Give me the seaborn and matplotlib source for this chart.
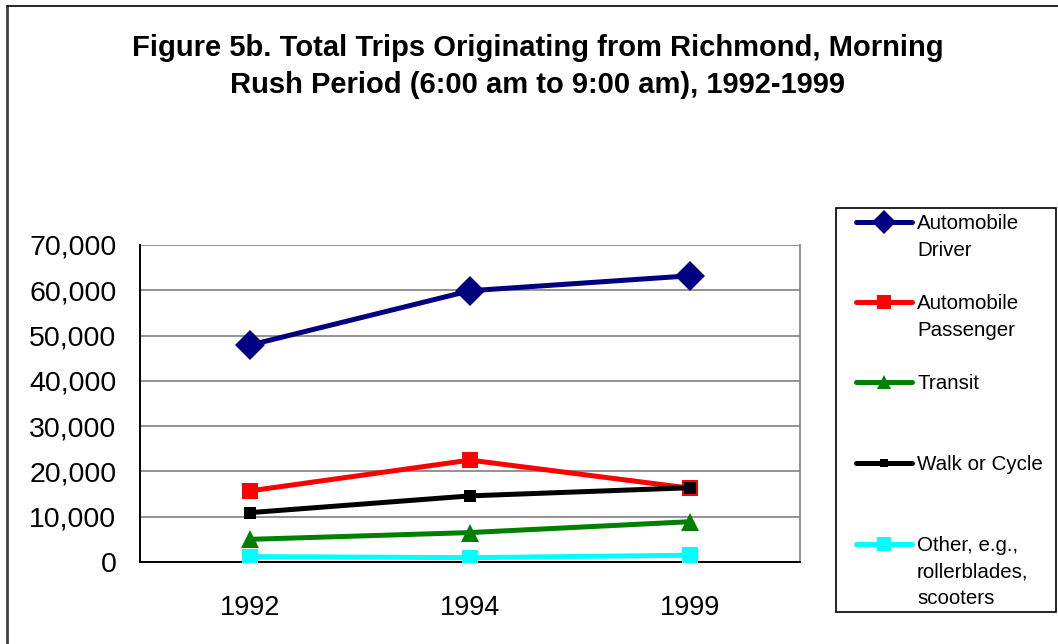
import matplotlib
matplotlib.use("Agg")
import matplotlib.pyplot as plt
from matplotlib.lines import Line2D
from matplotlib.ticker import FuncFormatter, FixedLocator
import seaborn as sns
import pandas as pd

years = ["1992", "1994", "1999"]
driver = [47900, 59900, 63200]
passenger = [15700, 22500, 16300]
transit = [5000, 6500, 8900]
walk = [10900, 14600, 16400]
other = [1200, 950, 1500]

labels = ["Automobile\nDriver", "Automobile\nPassenger", "Transit",
          "Walk or Cycle", "Other, e.g.,\nrollerblades,\nscooters"]
series = [driver, passenger, transit, walk, other]
colors = ["#000080", "#FF0000", "#008000", "#000000", "#00FFFF"]
markers = ["D", "s", "^", "s", "s"]
msizes = [15, 12, 13, 8, 12]

sns.set_style("white")
plt.rcParams["font.family"] = ["Liberation Sans", "DejaVu Sans"]
plt.rcParams["text.color"] = "black"
plt.rcParams["xtick.labelcolor"] = "black"
plt.rcParams["ytick.labelcolor"] = "black"

fig = plt.figure(figsize=(10.58, 6.44), dpi=100)
ax = fig.add_axes([140 / 1058, 82 / 644, 660 / 1058, 317 / 644])

# orden de Excel: la ultima serie queda encima
for i in range(5):
    df = pd.DataFrame({"year": years, "trips": series[i]})
    sns.lineplot(data=df, x="year", y="trips", ax=ax, color=colors[i],
                 marker=markers[i], markersize=msizes[i], linewidth=3.6,
                 markeredgewidth=0, markeredgecolor=colors[i], zorder=3 + i)

ax.set_xlim(-0.5, 2.5)
ax.set_ylim(0, 70000)
ax.set_yticks(range(0, 70001, 10000))
ax.yaxis.set_major_formatter(FuncFormatter(lambda v, p: f"{int(v):,}"))
ax.xaxis.set_minor_locator(FixedLocator([-0.5, 0.5, 1.5, 2.5]))
ax.tick_params(axis="x", which="major", length=0, labelsize=19.5, pad=24,
               labelcolor="black")
ax.tick_params(axis="x", which="minor", length=8, width=1, color="#808080", direction="out")
ax.tick_params(axis="y", length=8, width=1, color="black", direction="out",
               labelsize=20.5, pad=9, labelcolor="black")
ax.set_xlabel("")
ax.set_ylabel("")
ax.grid(axis="y", color="#808080", linewidth=1.2)
ax.set_axisbelow(True)
for s in ["left", "bottom"]:
    ax.spines[s].set_color("black")
    ax.spines[s].set_linewidth(1.4)
ax.spines["right"].set_color("#808080")
ax.spines["top"].set_visible(False)
ax.spines["right"].set_linewidth(1.2)

fig.suptitle("Figure 5b. Total Trips Originating from Richmond, Morning\n"
             "Rush Period (6:00 am to 9:00 am), 1992-1999",
             x=538 / 1058, y=1 - 34 / 644, fontsize=21, fontweight="bold",
             linespacing=1.4, va="top", color="black")

# leyenda manual (el marcador se alinea con la primera linea del texto)
W, H = 1058, 644
fig.patches.append(plt.Rectangle((836 / W, 1 - 612 / H), 220 / W, 404 / H,
                                 transform=fig.transFigure, fill=False,
                                 edgecolor="black", linewidth=1.2))
ys = [222, 302, 382, 463, 544]
for i in range(5):
    yf = 1 - ys[i] / H
    fig.add_artist(Line2D([856 / W, 912 / W], [yf, yf], transform=fig.transFigure,
                          color=colors[i], linewidth=3.6))
    fig.add_artist(Line2D([884 / W], [yf], transform=fig.transFigure,
                          color=colors[i], marker=markers[i],
                          markersize=msizes[i] * 0.8, markeredgewidth=0))
    fig.text(917 / W, yf + 8 / H, labels[i], fontsize=14.8, va="top", ha="left",
             linespacing=1.5, color="black")

# borde de la figura
fig.add_artist(Line2D([7 / W, 7 / W], [0, 1 - 6 / H], transform=fig.transFigure,
                      color="#404040", linewidth=2))
fig.add_artist(Line2D([7 / W, 1], [1 - 6 / H, 1 - 6 / H], transform=fig.transFigure,
                      color="black", linewidth=1.2))

fig.savefig("out.png", dpi=100)
